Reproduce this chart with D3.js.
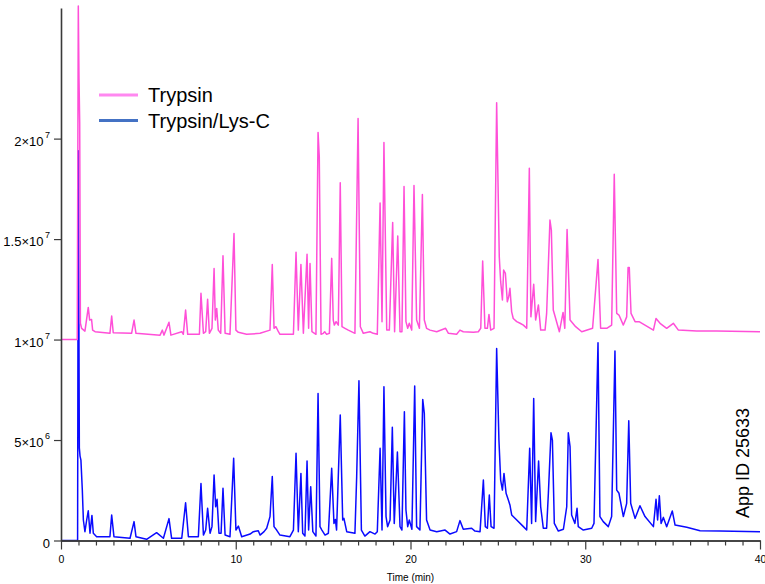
<!DOCTYPE html>
<html><head><meta charset="utf-8">
<script src="https://cdn.jsdelivr.net/npm/d3@7"></script>
<style>
body{margin:0;background:#fff}
svg{display:block}
text{font-family:Arial,"Liberation Sans",Helvetica,sans-serif}
</style>
</head><body>
<svg id="chart" width="765" height="584"></svg>
<script>
// ---- data (signal in units of 10^6; the Trypsin trace is displayed offset by 1×10^7) ----
const seriesNames = ["Trypsin", "Trypsin/Lys-C"];
const xTickValues = [0, 10, 20, 30, 40];
const xMinorTicks = [1,2,3,4,5,6,7,8,9,11,12,13,14,15,16,17,18,19,21,22,23,24,25,26,27,28,29,31,32,33,34,35,36,37,38,39];
const yTickValues = [0, 5, 10, 15, 20];
const yTickMantissa = ["0", "5×10", "1×10", "1.5×10", "2×10"];
const yTickExponent = ["", "6", "7", "7", "7"];
const xTitle = "Time (min)";
const appId = "App ID 25633";

const trypsinTime = [0,0.93,0.99,1.03,1.07,1.11,1.18,1.37,1.56,1.64,1.75,1.81,1.95,2.80,2.90,2.99,4.04,4.18,4.29,5.67,5.80,5.89,6.18,6.29,6.91,7.00,7.13,7.25,7.92,8.01,8.15,8.28,8.39,8.49,8.64,8.76,8.83,8.91,9.00,9.14,9.27,9.39,9.67,9.90,10.01,10.15,10.62,11.39,11.96,12.09,12.19,12.30,12.44,12.53,13.30,13.45,13.58,13.73,13.87,14.08,14.17,14.25,14.36,14.59,14.71,14.78,14.88,15.01,15.09,15.20,15.36,15.49,15.58,15.64,15.74,15.87,15.98,16.08,16.25,16.44,16.82,17.00,17.13,17.30,17.68,17.87,18.10,18.26,18.37,18.48,18.64,18.79,18.98,19.09,19.27,19.40,19.51,19.63,19.74,19.84,19.93,20.07,20.20,20.35,20.51,20.68,20.79,20.92,21.12,21.50,22.01,22.17,22.64,22.83,23.02,23.60,23.88,24.02,24.13,24.26,24.40,24.49,24.59,24.78,24.93,25.08,25.16,25.26,25.33,25.43,25.54,25.62,25.69,25.79,25.88,26.08,26.27,26.46,26.65,26.80,26.89,27.05,27.16,27.32,27.45,27.70,27.79,27.98,28.06,28.17,28.52,28.73,28.83,28.96,29.13,29.45,29.80,30.42,30.73,30.88,31.23,31.51,31.66,31.80,31.93,32.18,32.37,32.45,32.52,32.62,32.85,33.08,33.90,34.05,34.28,34.66,35.04,35.33,36.38,37.52,40.00];
const trypsinSignal = [10.0,10.0,26.6,23.0,20.8,10.81,10.56,10.42,11.60,10.97,11.00,10.47,10.39,10.31,11.17,10.34,10.31,10.97,10.31,10.22,10.47,10.22,10.86,10.22,10.39,10.26,11.47,10.26,10.26,12.30,10.31,10.39,12.00,10.31,10.56,13.54,10.97,11.55,10.47,10.31,14.17,10.31,10.26,15.28,10.47,10.36,10.26,10.31,10.47,13.74,10.56,10.64,10.39,10.26,10.26,14.34,10.47,13.74,10.31,14.24,10.56,13.79,10.39,10.26,20.31,19.09,10.26,10.31,10.39,10.26,10.31,14.04,10.97,10.72,10.89,10.72,17.80,10.64,10.56,10.47,10.31,21.00,10.64,10.31,10.39,10.31,10.26,16.79,10.89,19.81,10.47,10.47,15.83,10.39,15.15,10.39,10.39,17.62,10.89,10.56,10.81,10.47,17.67,10.97,10.56,17.22,10.97,10.56,10.47,10.39,10.56,10.31,10.26,10.47,10.39,10.36,10.39,10.56,13.91,10.56,10.56,11.25,10.47,10.56,21.78,14.12,12.88,11.97,13.46,13.29,11.88,12.13,12.55,11.38,11.05,10.89,10.81,10.72,10.56,18.52,11.13,12.75,10.97,11.72,10.47,10.47,11.30,15.95,15.45,11.47,10.39,11.35,10.56,15.48,10.97,10.64,10.39,10.56,13.99,10.56,10.56,10.72,18.23,11.30,11.22,10.72,11.13,13.59,13.59,11.30,10.89,10.89,10.47,11.05,10.81,10.56,10.81,10.47,10.42,10.42,10.39];

const lyscTime = [0,0.95,0.99,1.05,1.09,1.14,1.22,1.28,1.37,1.47,1.56,1.66,1.77,1.85,2.04,2.80,2.90,3.03,3.95,4.18,4.29,4.90,5.47,5.86,6.18,6.33,6.91,7.13,7.29,7.86,8.01,8.15,8.28,8.39,8.53,8.64,8.76,8.85,8.93,9.04,9.16,9.27,9.39,9.67,9.88,10.01,10.15,10.34,10.82,11.01,11.29,11.39,11.62,11.77,11.96,12.09,12.19,12.34,12.53,13.10,13.30,13.45,13.58,13.73,13.83,13.96,14.08,14.17,14.29,14.41,14.59,14.71,14.82,14.93,15.11,15.30,15.49,15.62,15.70,15.77,15.98,16.12,16.19,16.35,16.82,16.92,17.05,17.19,17.39,17.68,17.97,18.10,18.26,18.37,18.48,18.60,18.69,18.83,18.96,19.07,19.25,19.40,19.51,19.65,19.74,19.84,19.93,20.08,20.24,20.35,20.54,20.70,20.79,20.92,21.12,21.50,21.98,22.26,22.64,22.83,23.02,23.50,23.69,23.98,24.17,24.28,24.40,24.51,24.61,24.78,24.93,25.06,25.16,25.26,25.35,25.47,25.60,25.69,25.79,26.08,26.46,26.65,26.82,26.93,27.05,27.16,27.33,27.45,27.60,27.79,27.89,28.04,28.12,28.23,28.46,28.75,28.94,29.03,29.13,29.22,29.41,29.53,29.60,29.89,30.37,30.50,30.73,30.84,31.03,31.32,31.51,31.70,31.80,31.93,32.18,32.37,32.49,32.60,32.85,33.13,33.42,33.90,34.05,34.14,34.24,34.34,34.47,34.66,34.98,35.14,35.81,36.57,37.71,40.00];
const lyscSignal = [0,0,19.4,4.6,4.20,4.00,2.51,1.02,0.44,1.02,1.48,0.36,1.25,0.36,0.19,0.19,1.27,0.19,0.11,0.94,0.19,0.06,0.39,0.11,1.09,0.11,0.11,1.88,0.19,0.19,2.84,0.27,0.52,1.60,0.36,0.69,3.26,1.68,2.05,0.36,0.36,2.60,0.27,0.19,4.09,0.52,0.72,0.19,0.32,0.44,0.49,0.27,0.44,0.61,1.19,3.18,0.69,0.52,0.27,0.19,0.52,4.34,0.44,3.34,0.36,0.22,3.96,0.52,2.68,0.44,0.22,7.32,0.69,0.52,0.27,0.36,3.59,0.85,1.05,0.52,6.24,1.02,1.10,0.44,0.36,3.18,7.95,0.52,0.22,0.44,0.32,0.44,4.59,0.52,7.65,1.19,0.69,1.02,5.63,0.85,4.40,0.69,0.52,6.41,1.52,0.69,1.02,0.56,7.69,0.69,0.52,7.02,6.33,1.02,0.52,0.44,0.52,0.32,0.44,0.99,0.56,0.61,0.47,0.44,3.01,0.69,0.61,2.26,0.69,0.61,9.56,5.00,3.01,2.51,3.34,2.35,2.01,1.77,1.27,1.02,0.69,0.52,4.59,0.85,7.07,0.94,3.96,1.68,0.61,0.61,2.35,5.36,5.00,0.85,0.47,0.56,1.68,5.36,4.67,1.27,0.85,1.60,0.69,0.52,0.61,0.85,9.84,1.19,0.94,0.69,1.19,9.43,2.51,2.35,1.19,1.85,5.96,1.85,1.10,1.73,1.19,0.69,2.05,1.02,2.23,0.85,1.15,0.69,1.47,0.77,0.66,0.49,0.47,0.44];

const seriesColors = ["#ff4fd8", "#0a0aff"];
const legendColors = ["#ff88f0", "#4472c4"];

// ---- chart ----
const svg = d3.select("#chart");
const x = d3.scaleLinear().domain([0, 40]).range([61, 760]);
const y = d3.scaleLinear().domain([0, 26.5]).range([540.5, 8]);

const zip = (t, v) => t.map((d, i) => [d, v[i]]);
const traces = [zip(trypsinTime, trypsinSignal), zip(lyscTime, lyscSignal)];
const line = d3.line().x(d => x(d[0])).y(d => y(d[1]));

// draw Lys-C first, Trypsin on top
[1, 0].forEach(i => {
  svg.append("path").datum(traces[i])
    .attr("fill", "none")
    .attr("stroke", seriesColors[i])
    .attr("stroke-width", 1.5)
    .attr("stroke-linejoin", "round")
    .attr("d", line);
});

// y axis
const yAxis = svg.append("g").attr("transform", `translate(${x(0)},0)`)
  .call(d3.axisLeft(y).tickValues(yTickValues).tickSize(7).tickSizeOuter(0).tickPadding(4).tickFormat(() => ""));
yAxis.selectAll(".tick text").each(function(d) {
  const i = yTickValues.indexOf(d);
  const t = d3.select(this).attr("font-size", 13).attr("fill", "#000").attr("dy", "0.5em");
  t.append("tspan").text(yTickMantissa[i]);
  if (yTickExponent[i]) t.append("tspan").attr("font-size", 9).attr("dx", 1.5).attr("dy", "-0.85em").text(yTickExponent[i]);
});

// x axis: minor then major ticks
const xMinor = svg.append("g").attr("transform", `translate(0,${y(0)})`)
  .call(d3.axisBottom(x).tickValues(xMinorTicks).tickSize(5).tickSizeOuter(0).tickFormat(() => ""));
const xMajor = svg.append("g").attr("transform", `translate(0,${y(0)})`)
  .call(d3.axisBottom(x).tickValues(xTickValues).tickSize(9).tickSizeOuter(0).tickPadding(6).tickFormat(d3.format("d")));
xMajor.selectAll(".tick text").attr("font-size", 10.5).attr("fill", "#000");

[yAxis, xMinor, xMajor].forEach(g => {
  g.select(".domain").attr("stroke", "#3a3a3a").attr("stroke-width", 1.6);
  g.selectAll(".tick line").attr("stroke", "#3a3a3a").attr("stroke-width", 1.2);
});

svg.append("text").attr("x", x(20)).attr("y", 581).attr("text-anchor", "middle")
  .attr("font-size", 10).attr("fill", "#000").text(xTitle);

// legend
seriesNames.forEach((name, i) => {
  const ly = 95 + i * 25.5;
  svg.append("line").attr("x1", 99).attr("x2", 138).attr("y1", ly).attr("y2", ly)
    .attr("stroke", legendColors[i]).attr("stroke-width", 3);
  svg.append("text").attr("x", 148).attr("y", ly + 7).attr("font-size", 20).attr("fill", "#000").text(name);
});

// app id
svg.append("text").attr("transform", "translate(749,518) rotate(-90)")
  .attr("font-size", 18).attr("fill", "#000").text(appId);
</script>
</body></html>
